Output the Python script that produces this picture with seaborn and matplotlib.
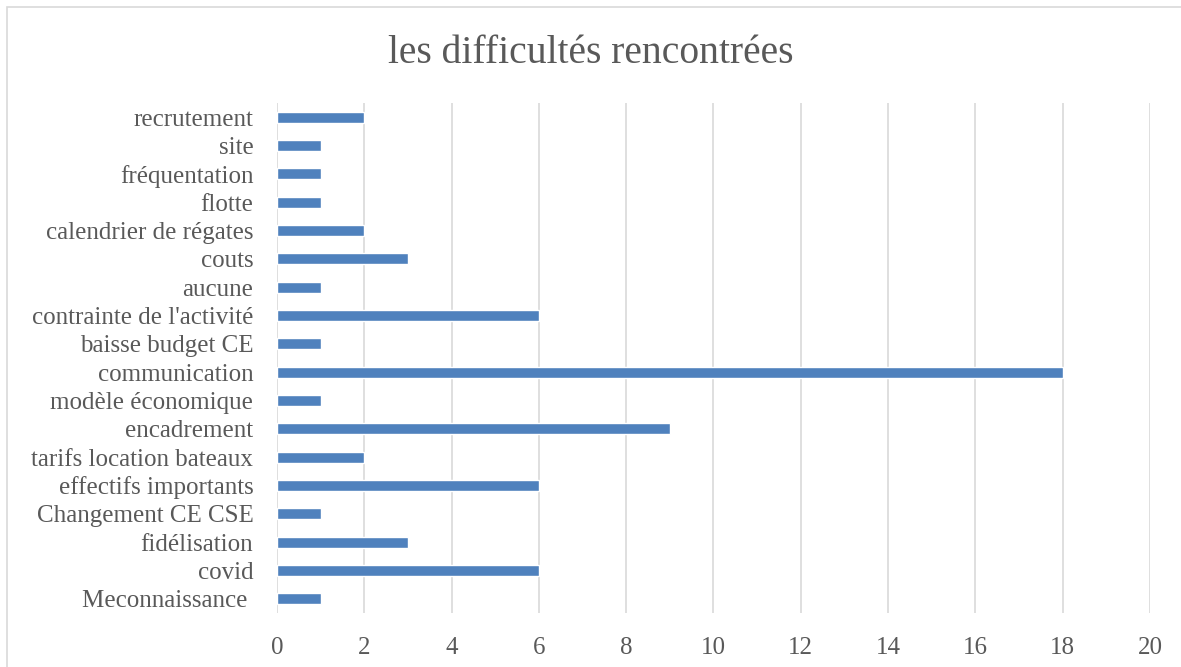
import matplotlib
matplotlib.use("Agg")
import matplotlib.pyplot as plt
import seaborn as sns
import pandas as pd
from matplotlib.patches import Rectangle

# --- données ---
categories = [
    "recrutement", "site", "fréquentation", "flotte", "calendrier de régates",
    "couts", "aucune", "contrainte de l'activité", "baisse budget CE",
    "communication", "modèle économique", "encadrement",
    "tarifs location bateaux", "effectifs importants", "Changement CE CSE",
    "fidélisation", "covid", "Meconnaissance ",
]
values = [2, 1, 1, 1, 2, 3, 1, 6, 1, 18, 1, 9, 2, 6, 1, 3, 6, 1]
x_ticks = list(range(0, 21, 2))
title = "les difficultés rencontrées"

df = pd.DataFrame({"categorie": categories, "nombre": values})

sns.set_style("white")
plt.rcParams["font.family"] = ["Liberation Serif", "DejaVu Serif"]
text_color = "#595959"
grid_color = "#D9D9D9"

fig = plt.figure(figsize=(11.81, 6.67), dpi=100)
ax = fig.add_axes([0.2345, 0.081, 0.7392, 0.7646])

sns.barplot(data=df, x="nombre", y="categorie", orient="h", color="#4F81BD",
            saturation=1, width=0.39, ax=ax)

ax.set_xlim(0, 20)
ax.set_xticks(x_ticks)
ax.set_xticklabels([str(t) for t in x_ticks])
for t in x_ticks:
    ax.axvline(t, color=grid_color, lw=1.2, zorder=0)
ax.set_axisbelow(True)
for s in ax.spines.values():
    s.set_visible(False)
ax.tick_params(axis="both", length=0, colors=text_color, labelsize=18)
ax.tick_params(axis="x", pad=17)
ax.tick_params(axis="y", pad=17)
ax.set_xlabel("")
ax.set_ylabel("")

fig.text(0.5, 0.92, title, ha="center", va="center", fontsize=28.5, color=text_color)

# cadre du graphique
fig.patches.append(Rectangle((7 / 1181, -0.01), 1.0, 1 - 7 / 667 + 0.01,
                             transform=fig.transFigure, fill=False,
                             edgecolor=grid_color, lw=1.2))

fig.savefig("out.png", dpi=100)
